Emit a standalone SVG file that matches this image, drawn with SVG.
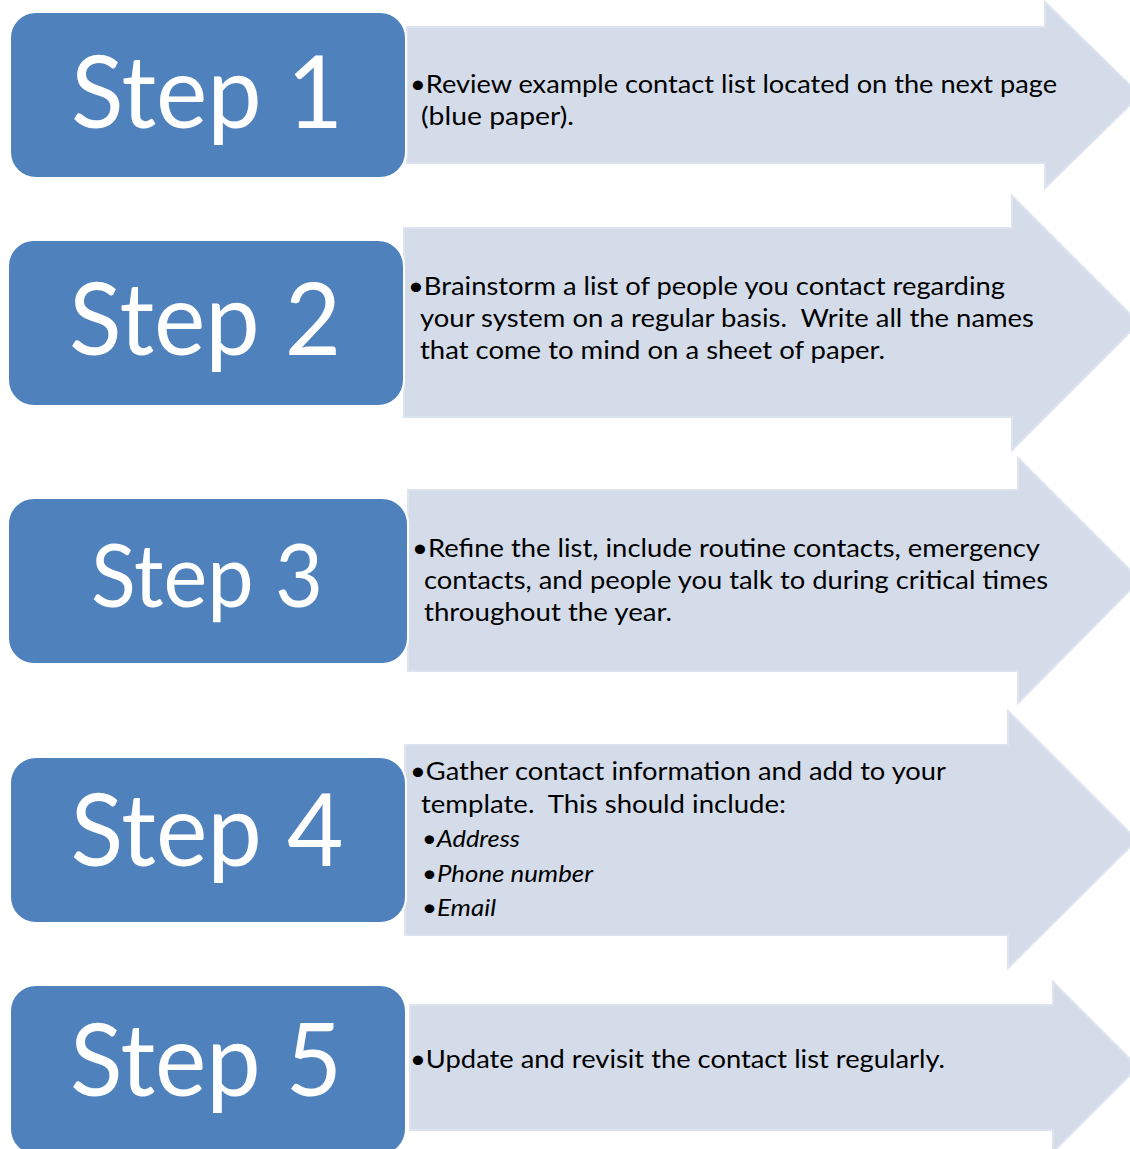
<svg xmlns="http://www.w3.org/2000/svg" width="1130" height="1149" viewBox="0 0 1130 1149">
<style>
.box{fill:#4f81bd;stroke:#ffffff;stroke-width:2}
.arr{fill:#d4dcea;stroke:#dde3ef;stroke-width:2}
.step{font-family:Lato,"Open Sans","Liberation Sans",sans-serif;fill:#ffffff;font-size:101px;text-anchor:middle}
.t{font-family:Lato,"Open Sans","Liberation Sans",sans-serif;fill:#000000;font-size:25px;white-space:pre}
.i{font-style:italic;font-size:23px}
</style>
<rect width="1130" height="1149" fill="#ffffff"/>
<g id="connectors">
<path class="arr" d="M407,27 H1045 V2 L1140,95 L1045,188 V163 H407 Z"/>
<path class="arr" d="M404,228 H1012 V196 L1139,323 L1012,450 V417 H404 Z"/>
<path class="arr" d="M408,490 H1018 V458 L1140,580 L1018,703 V671 H408 Z"/>
<path class="arr" d="M405,745 H1008 V711 L1137,840 L1008,968 V935 H405 Z"/>
<path class="arr" d="M410,1005 H1053 V982 L1138,1067 L1053,1152 V1130 H410 Z"/>
</g>
<g id="step1">
<rect class="box" x="10" y="12" width="396" height="166" rx="26"/>
<text class="step" x="207" y="128" textLength="272" lengthAdjust="spacingAndGlyphs">Step 1</text>
<text class="t" x="410" y="93" textLength="647" lengthAdjust="spacingAndGlyphs">•Review example contact list located on the next page</text>
<text class="t" x="421" y="125" textLength="153" lengthAdjust="spacingAndGlyphs">(blue paper).</text>
</g>
<g id="step2">
<rect class="box" x="8" y="240" width="396" height="166" rx="26"/>
<text class="step" x="205" y="355" textLength="272" lengthAdjust="spacingAndGlyphs">Step 2</text>
<text class="t" x="408" y="295" textLength="597" lengthAdjust="spacingAndGlyphs">•Brainstorm a list of people you contact regarding</text>
<text class="t" x="420" y="327" textLength="614" lengthAdjust="spacingAndGlyphs" xml:space="preserve">your system on a regular basis.  Write all the names</text>
<text class="t" x="420" y="359" textLength="465" lengthAdjust="spacingAndGlyphs">that come to mind on a sheet of paper.</text>
</g>
<g id="step3">
<rect class="box" x="8" y="498" width="400" height="166" rx="26"/>
<text class="step" x="207" y="607" style="font-size:87px" textLength="232" lengthAdjust="spacingAndGlyphs">Step 3</text>
<text class="t" x="412" y="557" textLength="628" lengthAdjust="spacingAndGlyphs">•Refine the list, include routine contacts, emergency</text>
<text class="t" x="424" y="589" textLength="624" lengthAdjust="spacingAndGlyphs">contacts, and people you talk to during critical times</text>
<text class="t" x="424" y="621" textLength="248" lengthAdjust="spacingAndGlyphs">throughout the year.</text>
</g>
<g id="step4">
<rect class="box" x="10" y="757" width="396" height="166" rx="26"/>
<text class="step" x="207" y="866" textLength="273" lengthAdjust="spacingAndGlyphs">Step 4</text>
<text class="t" x="410" y="780" textLength="536" lengthAdjust="spacingAndGlyphs">•Gather contact information and add to your</text>
<text class="t" x="421" y="813" textLength="365" lengthAdjust="spacingAndGlyphs" xml:space="preserve">template.  This should include:</text>
<text class="t i" x="422" y="847" textLength="98" lengthAdjust="spacingAndGlyphs">•Address</text>
<text class="t i" x="422" y="882" textLength="171" lengthAdjust="spacingAndGlyphs">•Phone number</text>
<text class="t i" x="422" y="916" textLength="74" lengthAdjust="spacingAndGlyphs">•Email</text>
</g>
<g id="step5">
<rect class="box" x="10" y="985" width="396" height="170" rx="26"/>
<text class="step" x="206" y="1096" textLength="272" lengthAdjust="spacingAndGlyphs">Step 5</text>
<text class="t" x="410" y="1068" textLength="535" lengthAdjust="spacingAndGlyphs">•Update and revisit the contact list regularly.</text>
</g>
</svg>
